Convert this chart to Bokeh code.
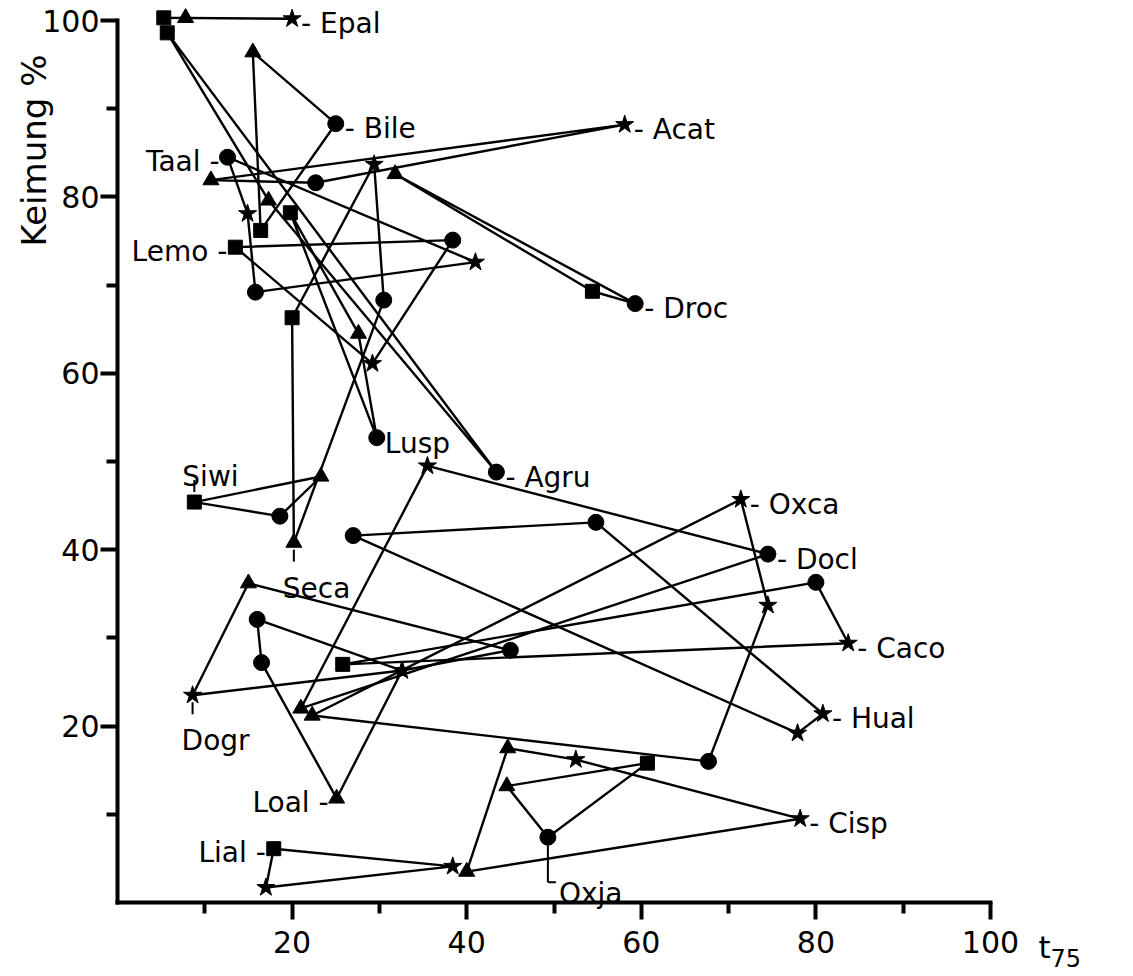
import math
from bokeh.plotting import figure
from bokeh.models import Label, Range1d, FixedTicker, ColumnDataSource, LinearAxis
from bokeh.embed import file_html
from bokeh.resources import INLINE

# ---------------- data ----------------
# one row per point; points of a species are listed in path order (closed path)
pt_species = [
    "Epal", "Epal", "Epal",
    "Bile", "Bile", "Bile",
    "Acat", "Acat", "Acat",
    "Taal", "Taal", "Taal", "Taal",
    "Lemo", "Lemo", "Lemo",
    "Droc", "Droc", "Droc",
    "Seca", "Seca", "Seca", "Seca",
    "Lusp", "Lusp", "Lusp",
    "Agru", "Agru", "Agru",
    "Siwi", "Siwi", "Siwi",
    "Docl", "Docl", "Docl",
    "Oxca", "Oxca", "Oxca", "Oxca",
    "Caco", "Caco", "Caco",
    "Hual", "Hual", "Hual", "Hual",
    "Dogr", "Dogr", "Dogr", "Dogr",
    "Loal", "Loal", "Loal", "Loal",
    "Cisp", "Cisp", "Cisp", "Cisp",
    "Lial", "Lial", "Lial",
    "Oxja", "Oxja", "Oxja",
]
pt_t75 = [
    5.3, 7.8, 20.0,
    15.5, 25.0, 16.4,
    10.7, 58.1, 22.7,
    12.6, 14.9, 15.8, 41.0,
    13.5, 38.4, 29.2,
    31.8, 54.4, 59.3,
    20.0, 20.2, 30.5, 29.4,
    19.8, 29.7, 27.6,
    5.7, 43.4, 17.3,
    8.8, 23.3, 18.6,
    74.5, 35.5, 21.0,
    71.4, 74.5, 67.7, 22.3,
    25.8, 80.0, 83.7,
    27.0, 54.8, 80.8, 77.9,
    8.6, 15.0, 45.0, 32.6,
    25.1, 16.5, 16.0, 32.6,
    78.2, 40.0, 44.7, 52.5,
    17.9, 38.4, 17.0,
    60.7, 44.6, 49.3,
]
pt_keim = [
    100.3, 100.3, 100.2,
    96.4, 88.3, 76.2,
    81.9, 88.2, 81.6,
    84.5, 78.1, 69.2, 72.6,
    74.3, 75.1, 61.1,
    82.6, 69.3, 67.9,
    66.3, 40.8, 68.3, 83.7,
    78.2, 52.7, 64.5,
    98.6, 48.8, 79.6,
    45.4, 48.3, 43.8,
    39.5, 49.5, 22.0,
    45.7, 33.7, 16.0, 21.2,
    27.0, 36.3, 29.4,
    41.6, 43.1, 21.4, 19.2,
    23.5, 36.2, 28.6, 26.3,
    11.8, 27.2, 32.1, 26.3,
    9.5, 3.5, 17.5, 16.2,
    6.1, 4.1, 1.7,
    15.8, 13.2, 7.4,
]
# q = square, t = triangle, c = circle, s = star
pt_marker = [
    "q", "t", "s",
    "t", "c", "q",
    "t", "s", "c",
    "c", "s", "c", "s",
    "q", "c", "s",
    "t", "q", "c",
    "q", "t", "c", "s",
    "q", "c", "t",
    "q", "c", "t",
    "q", "t", "c",
    "c", "s", "t",
    "s", "s", "c", "t",
    "q", "c", "s",
    "c", "c", "s", "s",
    "s", "t", "c", "s",
    "t", "c", "c", "s",
    "s", "t", "t", "s",
    "q", "s", "s",
    "q", "t", "c",
]

# species labels: which point of the species carries the label, and where
lbl_species = ["Epal", "Bile", "Acat", "Taal", "Lemo", "Droc", "Seca", "Lusp", "Agru",
               "Siwi", "Docl", "Oxca", "Caco", "Hual", "Dogr", "Loal", "Cisp", "Lial", "Oxja"]
lbl_point = [2, 1, 1, 0, 0, 2, 1, 1, 1, 0, 0, 0, 2, 2, 0, 0, 0, 0, 2]
lbl_side = ["right", "right", "right", "left", "left", "right", "below", "plain", "right",
            "above", "right", "right", "right", "right", "below", "left", "right", "left", "corner"]

x_major = [20, 40, 60, 80, 100]
x_minor = [10, 30, 50, 70, 90]
y_major = [20, 40, 60, 80, 100]
y_minor = [10, 30, 50, 70, 90]

# ---------------- layout (frame covers the whole canvas, axes pinned at 0) ----------------
W, H = 1133, 976
ORG_X, ORG_Y = 117.0, 902.0      # canvas pixel of (0, 0)
PX_X, PX_Y = 8.73, 8.82          # pixels per data unit
X_START, X_END = -ORG_X / PX_X, (W - ORG_X) / PX_X
Y_START, Y_END = -(H - ORG_Y) / PX_Y, ORG_Y / PX_Y

FONT = "DejaVu Sans"

p = figure(width=W, height=H, x_range=Range1d(X_START, X_END), y_range=Range1d(Y_START, Y_END),
           output_backend="svg", toolbar_location=None,
           x_axis_location=None, y_axis_location=None, min_border=0)
p.outline_line_color = None
p.xgrid.visible = False
p.ygrid.visible = False
p.background_fill_color = "white"
p.border_fill_color = "white"

xax = LinearAxis(fixed_location=0)
yax = LinearAxis(fixed_location=0)
for ax, maj, mino in ((xax, x_major, x_minor), (yax, y_major, y_minor)):
    ax.ticker = FixedTicker(ticks=maj, minor_ticks=mino)
    ax.bounds = (0, 100)
    ax.axis_line_width = 4
    ax.axis_line_color = "black"
    ax.axis_line_cap = "square"
    ax.major_tick_line_width = 4
    ax.minor_tick_line_width = 4
    ax.major_tick_out = 17
    ax.major_tick_in = 0
    ax.minor_tick_out = 11
    ax.minor_tick_in = 0
    ax.major_label_text_font = FONT
    ax.major_label_text_font_size = "30px"
    ax.major_label_text_color = "black"
xax.major_label_standoff = 11
yax.major_label_standoff = 1
p.add_layout(xax, "below")
p.add_layout(yax, "left")

# ---------------- paths ----------------
order = []
for s in pt_species:
    if s not in order:
        order.append(s)
xs, ys = [], []
for s in order:
    idx = [i for i, n in enumerate(pt_species) if n == s]
    px = [pt_t75[i] for i in idx]
    py = [pt_keim[i] for i in idx]
    xs.append(px + [px[0]])
    ys.append(py + [py[0]])
p.multi_line(xs, ys, line_color="black", line_width=2.4, line_join="round")

# ---------------- markers ----------------
mk_name = {"q": "square", "t": "triangle", "c": "circle", "s": "star"}
mk_size = {"q": 14, "t": 16, "c": 16, "s": 19}
src = ColumnDataSource(dict(
    x=pt_t75, y=pt_keim,
    m=[mk_name[m] for m in pt_marker],
    sz=[mk_size[m] for m in pt_marker],
))
p.scatter("x", "y", marker="m", size="sz", source=src,
          fill_color="black", line_color="black", line_width=1)

# ---------------- species labels ----------------
def add_label(text, x, y, xo, yo, align, baseline="middle", size="28px", angle=0.0):
    p.add_layout(Label(x=x, y=y, text=text, x_offset=xo, y_offset=yo, angle=angle,
                       text_align=align, text_baseline=baseline,
                       text_font=FONT, text_font_size=size, text_color="black"))

for name, k, side in zip(lbl_species, lbl_point, lbl_side):
    idx = [i for i, n in enumerate(pt_species) if n == name][k]
    x, y = pt_t75[idx], pt_keim[idx]
    if side == "right":
        add_label("- " + name, x, y, 9, -5, "left")
    elif side == "plain":
        add_label(name, x, y, 8, -6, "left")
    elif side == "left":
        add_label(name + " -", x, y, -8, -4, "right")
    elif side == "below":
        p.segment(x0=[x], y0=[y - 7 / PX_Y], x1=[x], y1=[y - 19 / PX_Y],
                  line_color="black", line_width=2)
        add_label(name, x, y, -11, -29, "left", "top")
    elif side == "above":
        p.segment(x0=[x], y0=[y + 10 / PX_Y], x1=[x], y1=[y + 22 / PX_Y],
                  line_color="black", line_width=2)
        add_label(name, x, y, -12, 26, "left", "alphabetic")
    elif side == "corner":
        p.segment(x0=[x, x], y0=[y - 8 / PX_Y, y - 45 / PX_Y],
                  x1=[x, x + 8 / PX_X], y1=[y - 45 / PX_Y, y - 45 / PX_Y],
                  line_color="black", line_width=2)
        add_label(name, x, y, 11, -56, "left", "alphabetic")

# ---------------- axis titles ----------------
add_label("Keimung %", -(ORG_X - 33) / PX_X, (ORG_Y - 150) / PX_Y, 0, 0,
          "center", "middle", size="34px", angle=math.pi / 2)
add_label("t", (1038 - ORG_X) / PX_X, -(946 - ORG_Y) / PX_Y, 0, 0,
          "left", "alphabetic", size="31px")
add_label("75", (1050 - ORG_X) / PX_X, -(957 - ORG_Y) / PX_Y, 0, 0,
          "left", "alphabetic", size="24px")

open("out.html", "w").write(file_html(p, INLINE))
